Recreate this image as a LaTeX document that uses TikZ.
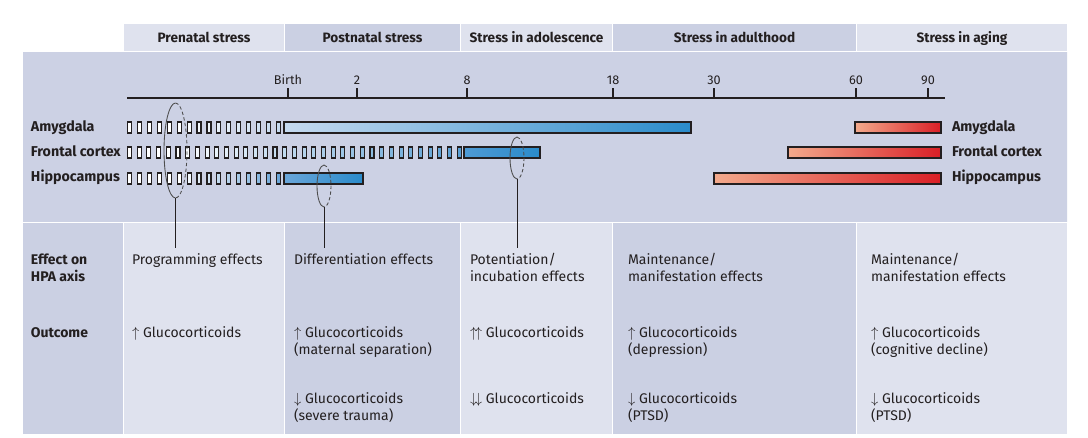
\documentclass[tikz,border=0pt]{standalone}
\usepackage{fontspec}
\setmainfont{Fira Sans}
\definecolor{hdrL}{HTML}{DFE2EE}
\definecolor{hdrD}{HTML}{CBD0E3}
\definecolor{panT}{HTML}{CCD1E4}
\definecolor{panM}{HTML}{E3E5F0}
\definecolor{txt}{HTML}{231F20}
\definecolor{blueA}{HTML}{C6DAEF}
\definecolor{blueB}{HTML}{2A8BCA}
\definecolor{blueF}{HTML}{4E9AD4}
\definecolor{blueFb}{HTML}{5A9FD4}
\definecolor{blueH}{HTML}{6AA6D9}
\definecolor{redA}{HTML}{F3AA8C}
\definecolor{redB}{HTML}{D91F26}
\definecolor{ellc}{HTML}{4D4D4D}
\begin{document}
\begin{tikzpicture}[x=0.75pt,y=-0.75pt,
 every node/.style={inner sep=0pt,outer sep=0pt,text=txt},
 hdr/.style={anchor=base,font=\fontsize{10.2}{12}\selectfont\bfseries},
 rowlab/.style={anchor=base west,font=\fontsize{10.7}{12}\selectfont\bfseries},
 ticklab/.style={anchor=base,font=\fontsize{9.5}{11}\selectfont},
 body/.style={anchor=base west,font=\fontsize{10.5}{12.75}\selectfont},
 bodyb/.style={anchor=base west,font=\fontsize{10.5}{12.75}\selectfont\bfseries},
 bar/.style={draw=txt,line width=0.9pt},
 sbox/.style={draw=txt,line width=0.85pt},
 conn/.style={draw=txt,line width=0.65pt},
 ellsolid/.style={draw=ellc,line width=0.65pt},
 elldash/.style={draw=ellc,line width=0.65pt,dash pattern=on 2.5pt off 1.8pt}]
\useasboundingbox (0,0) rectangle (1088,437);
\fill[white] (0,0) rectangle (1088,437);
% header
\fill[hdrL] (124,24) rectangle (284,51);
\fill[hdrD] (285,24) rectangle (460,51);
\fill[hdrL] (461,24) rectangle (612,51);
\fill[hdrD] (613,24) rectangle (856,51);
\fill[hdrL] (857,24) rectangle (1067,51);
\node[hdr] (h1) at (204,42) {Prenatal stress};
\node[hdr] (h2) at (372.5,42) {Postnatal stress};
\node[hdr] (h3) at (536.5,42) {Stress in adolescence};
\node[hdr] (h4) at (734.5,42) {Stress in adulthood};
\node[hdr] (h5) at (962,42) {Stress in aging};
% middle panel
\shade[top color=panT,middle color=panM,bottom color=panT] (23,52.5) rectangle (1067,221.5);
% bottom panel
\fill[hdrD] (23,223) rectangle (123,434);
\fill[hdrL] (124,223) rectangle (284,434);
\fill[hdrD] (285,223) rectangle (460,434);
\fill[hdrL] (461,223) rectangle (612,434);
\fill[hdrD] (613,223) rectangle (856,434);
\fill[hdrL] (857,223) rectangle (1067,434);
% axis
\draw[line width=1pt,txt] (127,98) -- (945,98);
\foreach \x/\l [count=\k] in {288/Birth,357/2,467/8,613/18,714/30,856/60,928/90}{
  \draw[line width=1pt,txt] (\x,98) -- (\x,88);
  \node[ticklab] (t\k) at (\x,84) {\l};
}
% row labels
\node[rowlab] (la) at (31,131) {Amygdala};
\node[rowlab] (lf) at (31,156) {Frontal cortex};
\node[rowlab] (lh) at (31,181) {Hippocampus};
\node[rowlab] (ra) at (952,131) {Amygdala};
\node[rowlab] (rf) at (952,156) {Frontal cortex};
\node[rowlab] (rh) at (952,181) {Hippocampus};
% small boxes
\foreach \i in {0,...,15}{
  \pgfmathsetmacro\pct{max(0,(\i-5)*10)}
  \draw[sbox,fill=blueA!\pct!white] ({127.5+\i*9.93},122) rectangle ++(4,11);
}
\foreach \i in {0,...,34}{
  \pgfmathsetmacro\pct{max(0,(\i-5)/29*100)}
  \draw[sbox,fill=blueFb!\pct!white] ({127.5+\i*9.7},147) rectangle ++(4,11);
}
\foreach \i in {0,...,15}{
  \pgfmathsetmacro\pct{max(0,(\i-5)*10)}
  \draw[sbox,fill=blueH!\pct!white] ({127.5+\i*9.93},173) rectangle ++(4,11);
}
% blue bars
\draw[bar,left color=blueA,right color=blueB] (284,122) rectangle (691,133);
\draw[bar,left color=blueF,right color=blueB] (464,147) rectangle (540,158);
\draw[bar,left color=blueH,right color=blueB] (284,173) rectangle (363,184);
% red bars
\draw[bar,left color=redA,right color=redB] (855,122) rectangle (941,133);
\draw[bar,left color=redA,right color=redB] (788,147) rectangle (941,158);
\draw[bar,left color=redA,right color=redB] (714,173) rectangle (941,184);
% ellipses
\draw[ellsolid] (175.5,103) arc[start angle=270,end angle=90,x radius=11.5,y radius=47.5];
\draw[elldash] (175.5,103) arc[start angle=-90,end angle=90,x radius=11.5,y radius=47.5];
\draw[ellsolid] (324,165) arc[start angle=270,end angle=90,x radius=7,y radius=21];
\draw[elldash] (324,165) arc[start angle=-90,end angle=90,x radius=7,y radius=21];
\draw[ellsolid] (517,137) arc[start angle=270,end angle=90,x radius=7,y radius=21];
\draw[elldash] (517,137) arc[start angle=-90,end angle=90,x radius=7,y radius=21];
\coordinate (e1) at (175.5,198);
\coordinate (e2) at (324,207);
\coordinate (e3) at (517,179);
\coordinate (c1) at (175.5,248);
\coordinate (c2) at (324,248);
\coordinate (c3) at (517,248);
\draw[conn] (e1) -- (c1);
\draw[conn] (e2) -- (c2);
\draw[conn] (e3) -- (c3);
% bottom texts
\node[bodyb] (b1) at (31,264) {Effect on};
\node[bodyb] (b2) at (31,281) {HPA axis};
\node[bodyb] (b3) at (31,337) {Outcome};
\node[body] (p1) at (132,264) {Programming effects};
\node[body] (p2) at (132,337) {$\uparrow$ Glucocorticoids};
\node[body] (q1) at (294,264) {Differentiation effects};
\node[body] (q2) at (294,337) {$\uparrow$ Glucocorticoids};
\node[body] (q3) at (294,354) {(maternal separation)};
\node[body] (q4) at (294,403) {$\downarrow$ Glucocorticoids};
\node[body] (q5) at (294,420) {(severe trauma)};
\node[body] (s1) at (470,264) {Potentiation/};
\node[body] (s2) at (470,281) {incubation effects};
\node[body] (s3) at (470,337) {$\uparrow\!\uparrow$ Glucocorticoids};
\node[body] (s4) at (470,403) {$\downarrow\!\downarrow$ Glucocorticoids};
\node[body] (u1) at (628,264) {Maintenance/};
\node[body] (u2) at (628,281) {manifestation effects};
\node[body] (u3) at (628,337) {$\uparrow$ Glucocorticoids};
\node[body] (u4) at (628,354) {(depression)};
\node[body] (u5) at (628,403) {$\downarrow$ Glucocorticoids};
\node[body] (u6) at (628,420) {(PTSD)};
\node[body] (g1) at (871,264) {Maintenance/};
\node[body] (g2) at (871,281) {manifestation effects};
\node[body] (g3) at (871,337) {$\uparrow$ Glucocorticoids};
\node[body] (g4) at (871,354) {(cognitive decline)};
\node[body] (g5) at (871,403) {$\downarrow$ Glucocorticoids};
\node[body] (g6) at (871,420) {(PTSD)};
\end{tikzpicture}
\end{document}
